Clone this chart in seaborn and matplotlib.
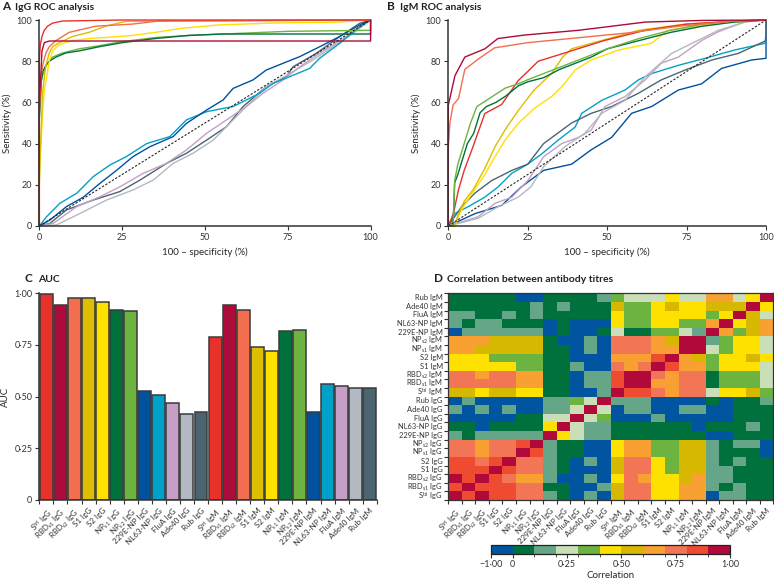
import numpy as np
import pandas as pd
import matplotlib
matplotlib.use("Agg")
import matplotlib.pyplot as plt
from matplotlib.colors import ListedColormap, BoundaryNorm
import seaborn as sns

sns.set_style("ticks")
plt.rcParams["font.family"] = ["Lato", "DejaVu Sans"]
plt.rcParams["mathtext.default"] = "regular"
plt.rcParams["axes.edgecolor"] = "#333333"
plt.rcParams["xtick.color"] = "#333333"
plt.rcParams["ytick.color"] = "#333333"
plt.rcParams["text.color"] = "#222222"

# ---- marker names / colours ----
antigens = ["S$^{tri}$", "RBD$_{s1}$", "RBD$_{s2}$", "S1", "S2", "NP$_{s1}$",
            "NP$_{s2}$", "229E-NP", "NL63-NP", "FluA", "Ade40", "Rub"]
marker_labels = [a + " IgG" for a in antigens] + [a + " IgM" for a in antigens]
marker_colors = ["#E8312A", "#AD0B3A", "#F26E4E", "#DDBE00", "#FFE100", "#00703C",
                 "#6DB33F", "#00519E", "#00A1C9", "#C59FC5", "#B3B9C0", "#4B6570"]

# ---- C: AUC ----
auc_igg = [0.997, 0.945, 0.976, 0.977, 0.956, 0.921, 0.916, 0.529, 0.508, 0.468, 0.418, 0.426]
auc_igm = [0.790, 0.945, 0.921, 0.742, 0.719, 0.816, 0.821, 0.427, 0.560, 0.552, 0.544, 0.544]

# ---- A: IgG ROC curves (100-specificity %, sensitivity %) ----
roc_igg = {
    "Rub": ([0, 3.2, 8.2, 16.3, 24.3, 30.4, 38.4, 44.4, 50.5, 56.5, 61.5, 68.5, 74.6, 76.6, 83.6, 90.7, 96.7, 100],
            [0, 1.3, 7.8, 12.6, 16.7, 22.3, 30.4, 35.3, 41.7, 48.2, 58, 67.6, 72.5, 77.3, 83.8, 92, 98.4, 100]),
    "Ade40": ([0, 5.2, 12.3, 20.3, 28.3, 34.4, 40.4, 46.4, 52.5, 58.5, 62.5, 68.5, 75.6, 82.6, 88.6, 94.7, 100],
              [0, 0.5, 6.1, 12.6, 17.5, 22.3, 30.4, 35.3, 41.7, 51.5, 58, 67.6, 74, 80.6, 87, 93.5, 100]),
    "FluA": ([0, 4.2, 11.3, 18.3, 24.3, 31.4, 38.4, 44.4, 50.5, 56.5, 62.5, 67.5, 73.6, 78.6, 84.6, 92.7, 100],
             [0, 1.3, 9.4, 14.2, 19, 25.6, 30.4, 36.9, 45, 51.5, 58, 64.4, 70.9, 77.3, 83.8, 92, 100]),
    "NL63-NP": ([0, 2.2, 6.2, 11.3, 16.3, 21.3, 26.3, 32.4, 39.4, 44.4, 50.5, 58.5, 66.5, 70.6, 75.6, 81.6, 84.6, 90.7, 96.7, 100],
                [0, 4.5, 11, 15.9, 24, 29.6, 33.7, 40, 43.4, 51.5, 55.5, 58, 64.4, 69.3, 72.5, 76.5, 81.4, 88.7, 96.8, 100]),
    "229E-NP": ([0, 3.2, 8.2, 13.3, 18.3, 23.3, 28.3, 33.4, 40.4, 44.4, 50.5, 55.5, 58.5, 64.5, 68.5, 73.6, 78.6, 84.6, 90.7, 96.7, 100],
                [0, 2.9, 9.4, 14, 20.7, 27, 33.7, 38.5, 43.4, 49.8, 56.3, 61.2, 66.8, 70.9, 75.7, 79, 82.2, 87, 92, 97.6, 100]),
    "NP$_{s2}$": ([0, 0, 0.5, 1, 2, 4, 7, 12, 18, 25, 35, 45, 60, 75, 100, 100],
                  [0, 60, 70, 73, 78, 82, 84, 86, 87.5, 89.5, 91.5, 92.5, 93.5, 94.5, 95, 100]),
    "NP$_{s1}$": ([0, 0, 0.3, 0.6, 1, 2, 3, 5, 8, 12, 18, 25, 35, 45, 55, 100, 100],
                  [0, 52, 60, 70, 75, 78, 80, 82, 84, 85, 87, 89, 91, 92.5, 93.2, 93.2, 100]),
    "S2": ([0, 0, 0.5, 1, 1.5, 2.2, 3, 4, 6, 10, 15, 20, 28, 35, 43, 54, 70, 90, 100],
           [0, 25, 40, 55, 66, 72, 80, 85, 88, 90, 91, 91.5, 92.5, 94, 96, 97.6, 98.5, 99, 100]),
    "S1": ([0, 0, 0.5, 1, 1.5, 2, 3, 4, 6, 10, 15, 20, 26, 100],
           [0, 20, 45, 65, 72, 78, 84, 87, 89, 92, 94, 97, 99.3, 100]),
    "RBD$_{s2}$": ([0, 0, 0.5, 1, 2, 3, 5, 9, 17, 28, 36, 100],
                   [0, 55, 72, 78, 84, 87, 90, 94, 97, 98, 99.5, 100]),
    "RBD$_{s1}$": ([0, 0, 0.5, 0.8, 1.5, 3, 100, 100],
                   [0, 60, 75, 85, 89, 89.8, 89.8, 100]),
    "S$^{tri}$": ([0, 0, 0.3, 0.8, 1.5, 2.5, 4, 7, 25, 100],
                  [0, 80, 88, 92, 95, 97, 98.5, 99.5, 100, 100]),
}

# ---- B: IgM ROC curves ----
roc_igm = {
    "229E-NP": ([0, 8.4, 16.8, 23, 30, 38.8, 45, 51.4, 57.7, 64, 72.4, 79.7, 86, 95.5, 100, 100],
                [0, 6, 10, 19, 27, 30, 37, 43, 54.7, 58, 66, 69, 76.5, 80.6, 81.4, 100]),
    "NL63-NP": ([0, 2, 6.3, 11.5, 15.7, 20, 25, 29.4, 34.6, 39.9, 42, 48.3, 55.6, 59.8, 64, 72.4, 80.8, 90, 99.7, 100],
                [0, 6, 9.4, 14, 19, 25.6, 30, 35, 41.7, 48, 54.7, 61, 66, 70.9, 74, 78, 81.4, 85.4, 88.7, 94]),
    "Rub": ([0, 4.2, 8.4, 13.6, 20, 25, 30, 38.8, 45, 51.4, 59.8, 67, 74.5, 83, 91.3, 100, 100],
            [0, 9.4, 16, 22, 27, 30, 40, 50, 54.7, 58, 64.4, 70.9, 75.7, 80.6, 83.8, 90, 100]),
    "FluA": ([0, 9.4, 14.7, 20, 25, 30, 35.7, 41, 45, 49.3, 55.6, 62, 67, 72.4, 79.7, 85, 93.4, 100],
             [0, 4.5, 11, 14, 22, 33.6, 40, 43, 46.6, 58, 62.8, 71, 79, 82, 90, 94.3, 99.2, 100]),
    "Ade40": ([0, 9.4, 15.7, 22, 26, 30, 36.7, 43, 48.3, 55.6, 62, 70.3, 74.5, 85, 93.4, 100],
              [0, 3.7, 9.4, 14, 19, 28.8, 38.5, 45, 54.7, 61, 72.5, 83.8, 87, 95, 99, 100]),
    "S2": ([0, 2, 3, 5, 8, 11.5, 14.7, 18, 22, 27, 32.5, 36, 39.9, 45, 53.5, 64, 69, 85, 100],
           [0, 0, 4, 10, 17, 25, 33.7, 42, 49.8, 57, 62.8, 68, 75.7, 80.6, 85.4, 88.7, 95, 98.4, 100]),
    "S1": ([0, 2, 3, 5, 8, 11.5, 14.7, 18, 22, 27, 32.5, 36, 38.8, 47, 60, 74.5, 100],
           [0, 0, 5, 12, 18, 28, 38.5, 47, 56, 66, 74, 82, 86, 89.5, 95, 98, 100]),
    "S$^{tri}$": ([0, 1.6, 3.2, 5, 7.4, 11.5, 16.8, 22, 25, 28.3, 35.6, 49, 62, 75, 90, 100],
                  [0, 6, 17.5, 27, 36.9, 54.6, 59, 70.6, 75, 80, 83.5, 90, 95, 98, 99.5, 100]),
    "NP$_{s1}$": ([0, 1.5, 2, 3, 5, 6, 8, 10, 12, 15, 18, 22, 25, 30, 35, 40, 45, 50, 60, 70, 80, 90, 100],
                  [0, 0, 21, 25, 35, 40, 45, 55, 58, 60, 63, 68, 70, 72, 76, 79, 82, 86, 90, 94, 97, 99, 100]),
    "NP$_{s2}$": ([0, 1.5, 2, 3, 5, 7, 9, 12, 15, 18, 22, 25, 30, 35, 40, 50, 60, 70, 80, 90, 100],
                  [0, 0, 22, 30, 40, 50, 58, 61, 64, 67, 69, 71, 74, 77, 80, 86, 91, 95, 98, 99.5, 100]),
    "RBD$_{s2}$": ([0, 0, 0.5, 1.5, 3.2, 5.2, 9.4, 14.6, 25, 41, 57, 72.7, 90, 100],
                   [0, 38, 50, 58.7, 61.8, 76, 81, 86.5, 89, 91.4, 93.8, 97, 99.5, 100]),
    "RBD$_{s1}$": ([0, 0, 0.5, 2.1, 5.2, 11.5, 15.6, 24, 41, 62, 80, 100],
                   [0, 58.7, 62, 73, 82, 86, 91, 92.7, 95, 99, 99.8, 100]),
}

# ---- D: correlation between antibody titres (colour bins) ----
bin_value = {"B": -0.5, "G": 0.05, "T": 0.15, "P": 0.25, "L": 0.35, "Y": 0.45,
             "D": 0.55, "O": 0.65, "S": 0.75, "R": 0.85, "C": 0.95}
corr_rows = [  # top (Rub IgM) to bottom (S-tri IgG)
    "GGGGGBBGGGGT" + "LPPPYPPOOPYC",
    "GGGGGGTGTGGG" + "DLLYDYYDDDCY",
    "TTGGTGTGGGGG" + "YLLYYYYLYCDP",
    "TGTTGGGBGBBB" + "YLLYYLLOCYDO",
    "BTTTTTTBGBBG" + "PGGLLPTCOLDO",
    "OOODDDDGBBTB" + "SSSODCCTLYYP",
    "OODDDDDGGBTB" + "SSSOOCCPLYYP",
    "YYYLLLLGGBBB" + "OOORCODLYYDY",
    "YYYYYLLGGTBB" + "SOSCROOLYYYP",
    "SSOSSOOGGBTT" + "RCCSOSSGLLLP",
    "SSSSSOOGGBTT" + "RCCOOSSGLLLP",
    "DDYDDYYGGBBT" + "CRRSOSSPYYDL",
    "BTBBBBBTTLPC" + "TTTBBBBGBGGT",
    "TBTBTBBTTPCP" + "BTTBBTTBBGGG",
    "BBBBBGGPPCPL" + "BBBTBBBBBGGG",
    "GGBGGGGYCPTT" + "GGGGGGBGGGTG",
    "TGTTTTTCYPTT" + "GGGGGGGBBGGG",
    "SSOSSRCTGGBB" + "YOOLLDDTGTTB",
    "SSOSSCRTGGBB" + "YOOLLDDTGGGB",
    "RRSRCSSTGBTB" + "DSSYLDDTGTGG",
    "RRRCRSSTGBBB" + "DSSYLDDTTGGG",
    "CRCRSOOTBBTB" + "YSOYYDOTTGGG",
    "RCRRRSSGGBBT" + "DSSYYOOTGTGG",
    "CRCRRSSTGBTB" + "DSSYYOOBTTGG",
]
corr_bounds = [-1.0, 0.0, 0.1, 0.2, 0.3, 0.4, 0.5, 0.6, 0.7, 0.8, 0.9, 1.0]
corr_colors = ["#0054A0", "#00703C", "#66A688", "#CADFB8", "#6DB33F", "#FFE100",
               "#D6B800", "#F8A031", "#F27555", "#EE4B30", "#B0093A"]
cbar_ticks = [-1.0, 0.0, 0.25, 0.5, 0.75, 1.0]
cbar_ticklabels = ["\u22121\u00b700", "0", "0\u00b725", "0\u00b750", "0\u00b775", "1\u00b700"]

color_of = dict(zip(antigens, marker_colors))
TICK_FS = 6.5
HM_FS = 5.8
ROW_FS = 5.4
LABEL_FS = 7


def roc_frame(curves):
    parts = []
    for name, (fpr, tpr) in curves.items():
        parts.append(pd.DataFrame({"fpr": fpr, "tpr": tpr, "marker": name}))
    return pd.concat(parts, ignore_index=True)


def draw_roc(ax, curves):
    df = roc_frame(curves)
    sns.lineplot(data=df, x="fpr", y="tpr", hue="marker", palette=color_of,
                 sort=False, estimator=None, legend=False, linewidth=1.0,
                 clip_on=False, ax=ax)
    ax.plot([0, 100], [0, 100], ls=(0, (2, 1.5)), color="#222222", lw=0.8)
    ax.set_xlim(0, 100)
    ax.set_ylim(0, 100)
    ax.set_xticks([0, 25, 50, 75, 100])
    ax.set_yticks([0, 20, 40, 60, 80, 100])
    ax.tick_params(labelsize=TICK_FS, length=3, width=0.8, pad=2)
    ax.set_xlabel("100 \u2013 specificity (%)", fontsize=LABEL_FS, labelpad=4)
    ax.set_ylabel("Sensitivity (%)", fontsize=LABEL_FS, labelpad=3)
    sns.despine(ax=ax)
    for s in ("left", "bottom"):
        ax.spines[s].set_linewidth(1.1)


fig = plt.figure(figsize=(7.74, 5.85), dpi=100)

# A
axA = fig.add_axes([0.0508, 0.6137, 0.428, 0.3521])
draw_roc(axA, roc_igg)
# B
axB = fig.add_axes([0.5792, 0.6137, 0.4105, 0.3521])
draw_roc(axB, roc_igm)

# C
axC = fig.add_axes([0.0508, 0.1453, 0.436, 0.3533])
auc_all = auc_igg + auc_igm
sns.barplot(x=marker_labels, y=auc_all, hue=marker_labels, palette=marker_colors * 2,
            saturation=1, legend=False, width=0.92, edgecolor="#3a3a3a",
            linewidth=1.1, ax=axC)
axC.set_xlim(-0.5, 23.5)
axC.set_ylim(0, 1.0)
axC.set_yticks([0, 0.25, 0.5, 0.75, 1.0])
axC.set_yticklabels(["0", "0\u00b725", "0\u00b750", "0\u00b775", "1\u00b700"])
axC.set_xticks(range(24))
axC.set_xticklabels(marker_labels, rotation=45, ha="right", rotation_mode="anchor")
axC.set_xticks(np.arange(-0.5, 24, 1), minor=True)
axC.tick_params(axis="x", which="major", length=0, pad=5, labelsize=HM_FS)
axC.tick_params(axis="x", which="minor", length=3, width=0.8)
axC.tick_params(axis="y", labelsize=TICK_FS, length=3, width=0.8, pad=2)
axC.set_ylabel("AUC", fontsize=LABEL_FS, labelpad=3)
sns.despine(ax=axC)
for s in ("left", "bottom"):
    axC.spines[s].set_linewidth(1.1)

# D
axD = fig.add_axes([0.5792, 0.1453, 0.4199, 0.3533])
row_labels = marker_labels[::-1]
corr = pd.DataFrame([[bin_value[c] for c in row] for row in corr_rows],
                    index=row_labels, columns=marker_labels)
cmap = ListedColormap(corr_colors)
norm = BoundaryNorm(corr_bounds, cmap.N)
sns.heatmap(corr, cmap=cmap, norm=norm, cbar=False, linewidths=0,
            xticklabels=True, yticklabels=True, ax=axD)
axD.set_xticklabels(marker_labels, rotation=45, ha="right", rotation_mode="anchor")
axD.set_yticklabels(row_labels, rotation=0)
axD.set_xticks(np.arange(0, 25), minor=True)
axD.set_yticks(np.arange(0, 25), minor=True)
axD.tick_params(which="major", length=0)
axD.tick_params(axis="x", which="major", pad=5, labelsize=HM_FS)
axD.tick_params(axis="y", which="major", pad=4, labelsize=ROW_FS)
axD.tick_params(which="minor", length=3, width=0.8)
for s in axD.spines.values():
    s.set_visible(True)
    s.set_linewidth(0.9)
    s.set_color("#333333")

cax = fig.add_axes([0.6344, 0.0530, 0.3088, 0.0150])
sm = plt.cm.ScalarMappable(norm=norm, cmap=cmap)
cb = fig.colorbar(sm, cax=cax, orientation="horizontal", spacing="uniform",
                  ticks=cbar_ticks)
cb.ax.set_xticklabels(cbar_ticklabels)
cb.ax.tick_params(labelsize=TICK_FS, length=3, width=0.8, pad=1.5)
cb.outline.set_linewidth(0.9)
cb.outline.set_edgecolor("#222222")
cb.set_label("Correlation", fontsize=LABEL_FS, labelpad=1)

# panel titles
def panel_title(x_px, y_px, letter, text):
    fig.text(x_px / 774, 1 - y_px / 585, letter, fontsize=8.5, fontweight="bold",
             va="baseline", ha="left")
    fig.text((x_px + 13) / 774, 1 - y_px / 585, text, fontsize=7.5,
             fontweight="bold", va="baseline", ha="left")

panel_title(2, 10, "A", "IgG ROC analysis")
panel_title(387, 10, "B", "IgM ROC analysis")
panel_title(25, 282, "C", "AUC")
panel_title(434, 282, "D", "Correlation between antibody titres")

fig.savefig("out.png", dpi=100)
